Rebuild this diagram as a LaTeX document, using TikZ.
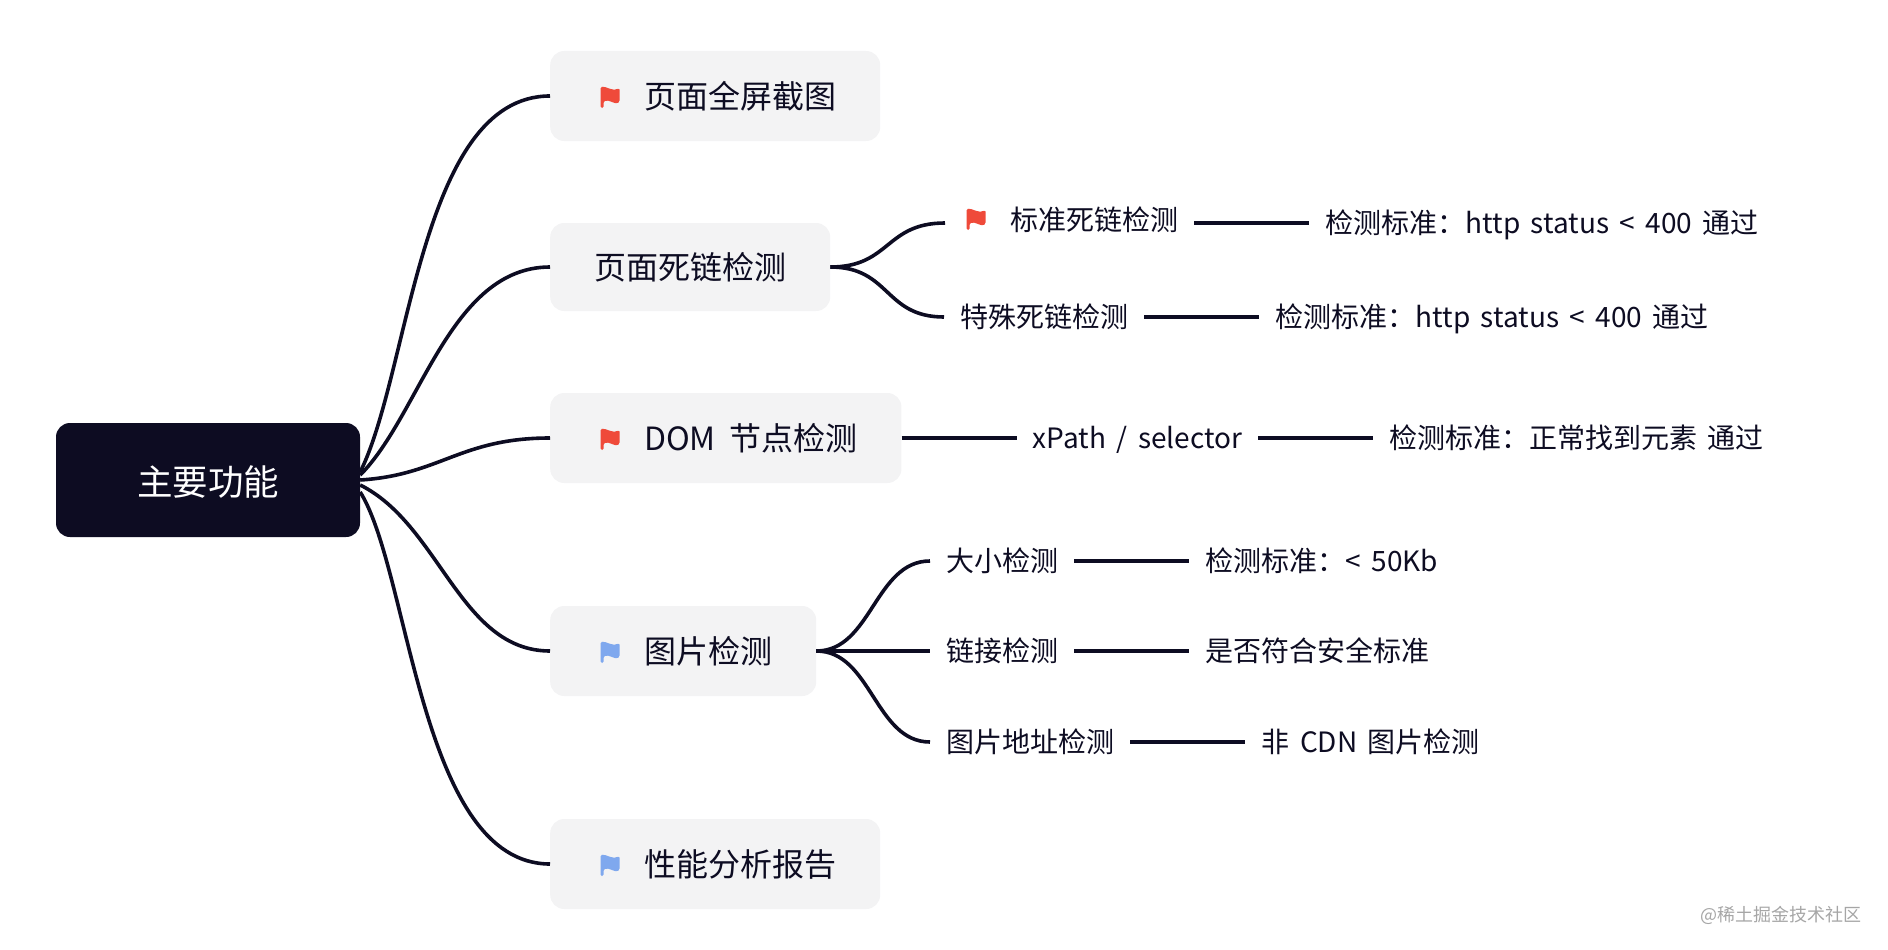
\documentclass[tikz,border=0pt]{standalone}
\usepackage{fontspec}
\setmainfont{Noto Sans CJK SC}
\usetikzlibrary{positioning}

\definecolor{inkdark}{HTML}{0D0C22}
\definecolor{boxgray}{HTML}{F3F3F4}
\definecolor{flagred}{HTML}{EF4A3A}
\definecolor{flagblue}{HTML}{7FA8EE}
\newcommand{\boxfont}{\fontsize{32}{38}\selectfont\spaceskip 13.5pt\relax}
\newcommand{\leaffont}{\fontsize{28}{34}\selectfont\spaceskip 10.5pt\relax}

\begin{document}
\begin{tikzpicture}[
      x=1pt, y=-1pt,
      node distance=0pt and 115pt,
      root/.style={rectangle, fill=inkdark, text=white, rounded corners=14pt, minimum width=304pt, minimum height=114pt, text height=31pt, text depth=1pt, font=\fontsize{35.5}{42}\selectfont},
      box/.style={rectangle, fill=boxgray, text=inkdark, rounded corners=14pt, anchor=west, inner xsep=44pt, minimum height=90pt, font=\boxfont},
      leaf/.style={rectangle, text=inkdark, inner xsep=16pt, inner ysep=0pt, text height=24pt, text depth=3pt, font=\leaffont},
      link/.style={draw=inkdark, line width=3.6pt},
      pics/flagmark/.style={code={
        \fill[#1, rounded corners=1.5pt] (-9.5,-10) .. controls (-4,-11) and (3,-5) .. (9.5,-9) -- (9.5,5) .. controls (5,8) and (-1,2) .. (-6.5,4.5) -- (-6.5,11) -- (-9.5,11) -- cycle;
      }}
    ]
    \useasboundingbox (0,0) rectangle (1888,950);

    \node[root] (main) at (208,480) {主要功能};

    \node[box] (shot) at (550,96) {\hspace*{50pt}页面全屏截图};
    \node[box, minimum height=88pt] (dead) at (550,267) {页面死链检测};
    \node[box] (dom) at (550,438) {\hspace*{50pt}DOM 节点检测};
    \node[box] (img) at (550,651) {\hspace*{50pt}图片检测};
    \node[box] (perf) at (550,864) {\hspace*{50pt}性能分析报告};

    \pic at (610,97) {flagmark=flagred};
    \pic at (610,439) {flagmark=flagred};
    \pic at (610,652) {flagmark=flagblue};
    \pic at (610,865) {flagmark=flagblue};

    \node[leaf, anchor=west] (deadstd) at (945,223) {\hspace*{49pt}\raisebox{3pt}{标准死链检测}};
    \node[leaf, right=of deadstd] (deadstdrule) {检测标准：http status < 400 通过};
    \node[leaf, anchor=west] (deadspec) at (944,317) {特殊死链检测};
    \node[leaf, right=of deadspec] (deadspecrule) {检测标准：http status < 400 通过};
    \pic at (976,219) {flagmark=flagred};

    \node[leaf, right=of dom] (xpath) {xPath / selector};
    \node[leaf, right=of xpath] (domrule) {检测标准：正常找到元素 通过};

    \node[leaf, anchor=west] (imgsize) at (930,561) {大小检测};
    \node[leaf, right=of imgsize] (imgsizerule) {检测标准：< 50Kb};
    \node[leaf, anchor=west] (imglink) at (930,651) {链接检测};
    \node[leaf, right=of imglink] (imglinkrule) {是否符合安全标准};
    \node[leaf, anchor=west] (imgaddr) at (930,742) {图片地址检测};
    \node[leaf, right=of imgaddr] (imgaddrrule) {非 CDN 图片检测};

    \draw[link] ([yshift=8pt]main.east) .. controls +(50,-100) and +(-130,0) .. (shot.west);
    \draw[link] ([yshift=5pt]main.east) .. controls +(60,-60) and +(-100,0) .. (dead.west);
    \draw[link] (main.east) .. controls +(80,-5) and +(-90,0) .. (dom.west);
    \draw[link] ([yshift=-5pt]main.east) .. controls +(80,40) and +(-90,0) .. (img.west);
    \draw[link] ([yshift=-12pt]main.east) .. controls +(50,80) and +(-130,0) .. (perf.west);

    \draw[link] (dead.east) .. controls +(60,0) and +(-60,0) .. (deadstd.west);
    \draw[link] (dead.east) .. controls +(60,0) and +(-60,0) .. (deadspec.west);
    \draw[link] (img.east) .. controls +(55,0) and +(-55,0) .. (imgsize.west);
    \draw[link] (img.east) -- (imglink.west);
    \draw[link] (img.east) .. controls +(55,0) and +(-55,0) .. (imgaddr.west);

    \draw[link] (deadstd) -- (deadstdrule);
    \draw[link] (deadspec) -- (deadspecrule);
    \draw[link] (dom) -- (xpath);
    \draw[link] (xpath) -- (domrule);
    \draw[link] (imgsize) -- (imgsizerule);
    \draw[link] (imglink) -- (imglinkrule);
    \draw[link] (imgaddr) -- (imgaddrrule);

    \node[text=black!35, font=\fontsize{18}{22}\selectfont, anchor=east] (mark) at (1865,915) {@稀土掘金技术社区};
\end{tikzpicture}
\end{document}
